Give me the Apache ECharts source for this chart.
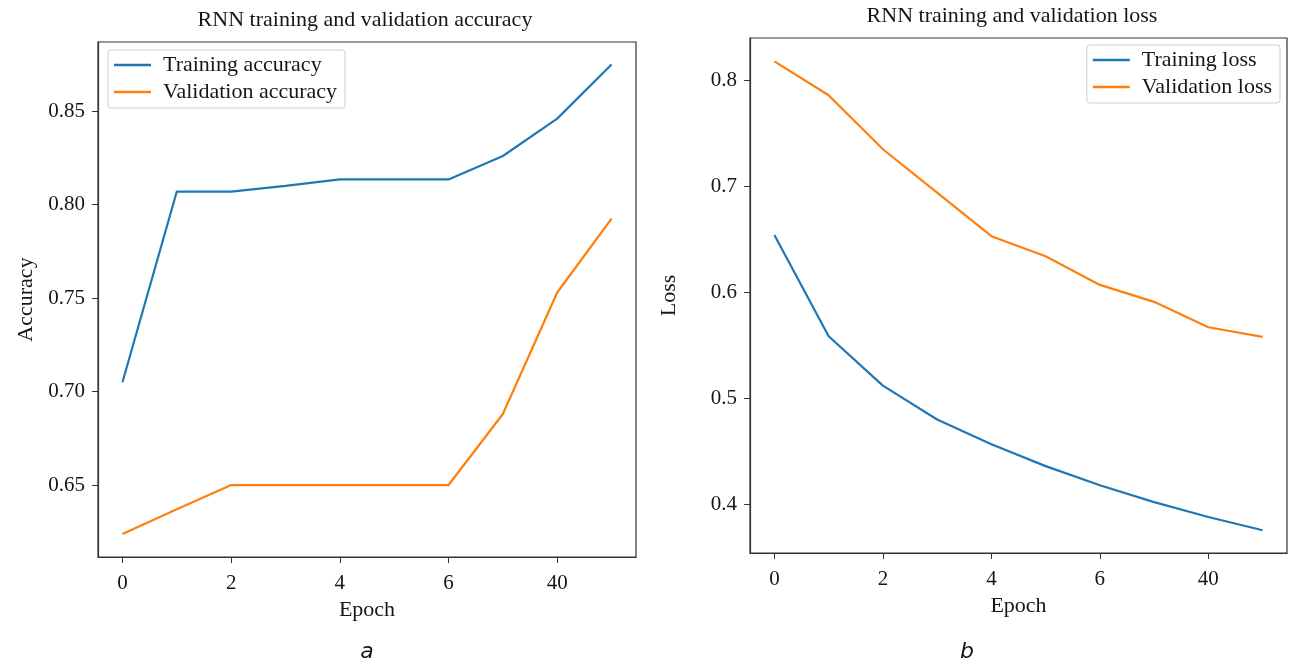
<!DOCTYPE html>
<html>
<head>
<meta charset="utf-8">
<script src="https://cdn.jsdelivr.net/npm/echarts@6/dist/echarts.min.js"></script>
<style>html,body{margin:0;padding:0;background:#fff}#c{width:1290px;height:665px}</style>
</head>
<body>
<div id="c"></div>
<script>
// ---- data ----
const epochIndex = [0, 1, 2, 3, 4, 5, 6, 7, 8, 9];
const xTickPositions = [0, 2, 4, 6, 8];
const xTickLabels = ["0", "2", "4", "6", "40"];
const trainAcc = [0.705, 0.807, 0.807, 0.810, 0.8135, 0.8135, 0.8135, 0.826, 0.846, 0.875];
const valAcc   = [0.6238, 0.637, 0.650, 0.650, 0.650, 0.650, 0.650, 0.688, 0.753, 0.7925];
const trainLoss = [0.654, 0.5585, 0.512, 0.480, 0.4566, 0.436, 0.418, 0.402, 0.388, 0.3755];
const valLoss   = [0.818, 0.786, 0.735, 0.694, 0.653, 0.634, 0.607, 0.591, 0.567, 0.558];
const accTicks = [0.65, 0.70, 0.75, 0.80, 0.85];
const lossTicks = [0.4, 0.5, 0.6, 0.7, 0.8];

const BLUE = '#1f77b4', ORANGE = '#ff7f0e';
const TXT = '#161616';
const SERIF = '"Liberation Serif", "DejaVu Serif", serif';
const pairs = arr => epochIndex.map((e, i) => [e, arr[i]]);

function xAxisCfg(gi) {
  return {
    type: 'value', gridIndex: gi, min: -0.45, max: 9.45,
    name: 'Epoch', nameLocation: 'middle', nameGap: 40,
    nameTextStyle: { fontFamily: SERIF, fontSize: 22, color: TXT },
    axisLine: { show: true, onZero: false, lineStyle: { color: '#333', width: 1.2 } },
    axisTick: { show: true, length: 6, customValues: xTickPositions, lineStyle: { color: '#333' } },
    axisLabel: { customValues: xTickPositions, margin: 16, fontFamily: SERIF, fontSize: 21, color: TXT,
      formatter: v => xTickLabels[xTickPositions.indexOf(Math.round(v))] ?? '' },
    splitLine: { show: false }
  };
}
function yAxisCfg(gi, name, min, max, ticks, dec, gap) {
  return {
    type: 'value', gridIndex: gi, min: min, max: max,
    name: name, nameLocation: 'middle', nameGap: gap,
    nameTextStyle: { fontFamily: SERIF, fontSize: 22, color: TXT },
    axisLine: { show: true, onZero: false, lineStyle: { color: '#333', width: 1.2 } },
    axisTick: { show: true, length: 6, customValues: ticks, lineStyle: { color: '#333' } },
    axisLabel: { customValues: ticks, margin: 13, fontFamily: SERIF, fontSize: 21, color: TXT,
      formatter: v => v.toFixed(dec) },
    splitLine: { show: false }
  };
}
function lineSeries(name, data, color, xi, yi) {
  return { type: 'line', name: name, data: pairs(data), xAxisIndex: xi, yAxisIndex: yi,
    symbol: 'none', lineStyle: { color: color, width: 2.2 }, itemStyle: { color: color } };
}
function legendCfg(names, pos) {
  return Object.assign({
    orient: 'vertical', data: names, icon: 'rect', itemWidth: 37, itemHeight: 2.5, itemGap: 5,
    backgroundColor: '#fff', borderColor: '#cfcfcf', borderWidth: 1, borderRadius: 3,
    padding: [4, 8, 5, 6],
    textStyle: { fontFamily: SERIF, fontSize: 22, color: TXT, padding: [0, 0, 0, 7] }
  }, pos);
}

const chart = echarts.init(document.getElementById('c'), null, { renderer: 'canvas' });
chart.setOption({
  animation: false,
  backgroundColor: '#fff',
  grid: [
    { left: 98, top: 42, width: 538, height: 515, show: true, borderColor: '#333', borderWidth: 1.2, backgroundColor: 'transparent' },
    { left: 750, top: 38, width: 537, height: 515, show: true, borderColor: '#333', borderWidth: 1.2, backgroundColor: 'transparent' }
  ],
  xAxis: [xAxisCfg(0), xAxisCfg(1)],
  yAxis: [
    yAxisCfg(0, 'Accuracy', 0.6115, 0.887, accTicks, 2, 61),
    yAxisCfg(1, 'Loss', 0.354, 0.84, lossTicks, 1, 70)
  ],
  legend: [
    legendCfg(['Training accuracy', 'Validation accuracy'], { left: 108, top: 50 }),
    legendCfg(['Training loss', 'Validation loss'], { right: 10, top: 45 })
  ],
  series: [
    lineSeries('Training accuracy', trainAcc, BLUE, 0, 0),
    lineSeries('Validation accuracy', valAcc, ORANGE, 0, 0),
    lineSeries('Training loss', trainLoss, BLUE, 1, 1),
    lineSeries('Validation loss', valLoss, ORANGE, 1, 1)
  ],
  graphic: [
    { type: 'text', x: 365, y: 20, style: { text: 'RNN training and validation accuracy', font: '22px ' + SERIF, fill: TXT, textAlign: 'center', textVerticalAlign: 'middle' } },
    { type: 'text', x: 1012, y: 16, style: { text: 'RNN training and validation loss', font: '22px ' + SERIF, fill: TXT, textAlign: 'center', textVerticalAlign: 'middle' } },
    { type: 'text', x: 367, y: 652, style: { text: 'a', font: 'italic 22px "DejaVu Sans", sans-serif', fill: TXT, textAlign: 'center', textVerticalAlign: 'middle' } },
    { type: 'text', x: 967, y: 652, style: { text: 'b', font: 'italic 22px "DejaVu Sans", sans-serif', fill: TXT, textAlign: 'center', textVerticalAlign: 'middle' } }
  ]
});
</script>
</body>
</html>
